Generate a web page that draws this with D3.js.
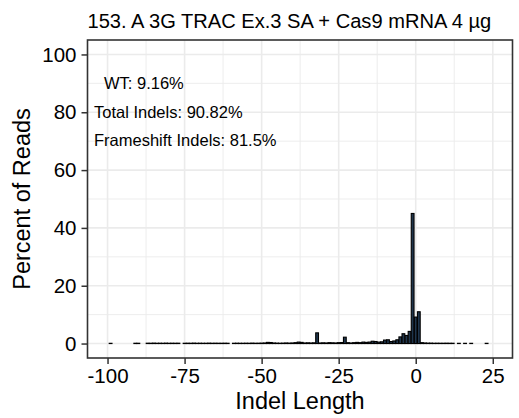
<!DOCTYPE html>
<html>
<head>
<meta charset="utf-8">
<script src="https://cdn.jsdelivr.net/npm/d3@7"></script>
<style>
  html, body { margin: 0; padding: 0; background: #fff; }
  svg { display: block; font-family: "Liberation Sans", Arial, Helvetica, sans-serif; }
</style>
</head>
<body>
<svg id="chart" width="519" height="418"></svg>
<script>
// ---------- data ----------
const chartTitle = "153. A 3G TRAC Ex.3 SA + Cas9 mRNA 4 \u00b5g";
const xAxisTitle = "Indel Length";
const yAxisTitle = "Percent of Reads";
const xTickValues = [-100, -75, -50, -25, 0, 25];
const xTickLabels = ["-100", "-75", "-50", "-25", "0", "25"];
const yTickValues = [0, 20, 40, 60, 80, 100];
const yTickLabels = ["0", "20", "40", "60", "80", "100"];
const annotations = ["WT: 9.16%", "Total Indels: 90.82%", "Frameshift Indels: 81.5%"];

const indelLength = [
  -99, -91, -90,
  -87, -86, -85, -84, -83, -82, -81, -80, -79, -78, -77,
  -75, -74, -73, -72, -71, -70, -69, -68, -67, -66, -65, -64, -63, -62, -61,
  -59, -58, -57, -56, -55, -54, -53, -52, -51, -50, -49, -48, -47, -46, -45,
  -44, -43, -42, -41, -40, -39, -38, -37, -36, -35, -34, -33,
  -32, -31, -30, -29, -28, -27, -26, -25, -24, -23,
  -22, -21, -20, -19, -18, -17, -16, -15, -14, -13, -12, -11,
  -10, -9, -8, -7, -6, -5, -4, -3, -2, -1,
  0, 1, 2, 3, 4, 5, 6, 7, 8, 9, 10, 11, 12, 14, 16, 18, 23
];
const percentReads = [
  0.08, 0.10, 0.10,
  0.12, 0.10, 0.15, 0.10, 0.12, 0.10, 0.14, 0.10, 0.12, 0.10, 0.12,
  0.10, 0.12, 0.10, 0.15, 0.10, 0.12, 0.10, 0.10, 0.14, 0.10, 0.12, 0.10, 0.10, 0.12, 0.10,
  0.10, 0.12, 0.10, 0.10, 0.12, 0.10, 0.15, 0.10, 0.12, 0.15, 0.20, 0.40, 0.35, 0.20, 0.15,
  0.12, 0.15, 0.20, 0.15, 0.20, 0.30, 0.50, 0.40, 0.20, 0.25, 0.20, 0.25,
  3.70, 0.20, 0.25, 0.20, 0.30, 0.25, 0.20, 0.30, 0.35, 2.20,
  0.30, 0.20, 0.30, 0.40, 0.30, 0.50, 0.40, 0.50, 0.80, 0.70, 0.50, 0.60,
  1.20, 1.30, 0.70, 0.90, 1.30, 2.30, 3.40, 2.80, 4.20, 45.0,
  9.16, 11.0, 0.30, 0.20, 0.15, 0.15, 0.10, 0.12, 0.10, 0.10, 0.12, 0.10, 0.10, 0.08, 0.08, 0.08, 0.08
];

// ---------- layout ----------
const svg = d3.select("#chart");
const panel = { left: 87.5, right: 512.5, top: 40, bottom: 358 };

const x = d3.scaleLinear().domain([-106.5, 31.4]).range([panel.left, panel.right]);
const y = d3.scaleLinear().domain([-5, 105]).range([panel.bottom, panel.top]);

const bars = indelLength.map((d, i) => ({ len: d, pct: percentReads[i] }));

// grid
const grid = svg.append("g");
const xMinor = d3.range(-112.5, 40, 25).filter(v => v > x.domain()[0] && v < x.domain()[1]);
const yMinor = d3.range(10, 110, 20);
grid.selectAll(".xminor").data(xMinor).enter().append("line")
  .attr("x1", d => x(d)).attr("x2", d => x(d)).attr("y1", panel.top).attr("y2", panel.bottom)
  .attr("stroke", "#ebebeb").attr("stroke-width", 0.9);
grid.selectAll(".yminor").data(yMinor).enter().append("line")
  .attr("y1", d => y(d)).attr("y2", d => y(d)).attr("x1", panel.left).attr("x2", panel.right)
  .attr("stroke", "#ebebeb").attr("stroke-width", 0.9);
grid.selectAll(".xmajor").data(xTickValues).enter().append("line")
  .attr("x1", d => x(d)).attr("x2", d => x(d)).attr("y1", panel.top).attr("y2", panel.bottom)
  .attr("stroke", "#ebebeb").attr("stroke-width", 1.6);
grid.selectAll(".ymajor").data(yTickValues).enter().append("line")
  .attr("y1", d => y(d)).attr("y2", d => y(d)).attr("x1", panel.left).attr("x2", panel.right)
  .attr("stroke", "#ebebeb").attr("stroke-width", 1.6);

// bars
const bw = (x(0.45) - x(-0.45));
svg.append("g").selectAll("rect").data(bars).enter().append("rect")
  .attr("x", d => x(d.len) - bw / 2)
  .attr("width", bw)
  .attr("y", d => y(d.pct))
  .attr("height", d => y(0) - y(d.pct))
  .attr("fill", "#1f354c")
  .attr("stroke", "#000")
  .attr("stroke-width", 1.1);

// annotations
const annX = [104, 94, 94];
const annY = [89, 117.5, 146];
svg.append("g").selectAll("text").data(annotations).enter().append("text")
  .attr("x", (d, i) => annX[i]).attr("y", (d, i) => annY[i])
  .attr("font-size", 16.5).attr("fill", "#000")
  .text(d => d);

// panel border
svg.append("rect")
  .attr("x", panel.left).attr("y", panel.top)
  .attr("width", panel.right - panel.left).attr("height", panel.bottom - panel.top)
  .attr("fill", "none").attr("stroke", "#333").attr("stroke-width", 1.6);

// axes
const xAxis = svg.append("g").attr("transform", `translate(0,${panel.bottom})`)
  .call(d3.axisBottom(x).tickValues(xTickValues).tickSize(6).tickPadding(4).tickSizeOuter(0)
    .tickFormat((d, i) => xTickLabels[i]));
const yAxis = svg.append("g").attr("transform", `translate(${panel.left},0)`)
  .call(d3.axisLeft(y).tickValues(yTickValues).tickSize(6).tickPadding(5).tickSizeOuter(0)
    .tickFormat((d, i) => yTickLabels[i]));
[xAxis, yAxis].forEach(a => {
  a.select(".domain").remove();
  a.selectAll(".tick line").attr("stroke", "#333").attr("stroke-width", 1.5);
  a.selectAll(".tick text").attr("fill", "#000").attr("font-size", 20.5)
    .attr("font-family", "'Liberation Sans', Arial, sans-serif");
});

// titles
svg.append("text").attr("x", panel.left).attr("y", 28)
  .attr("font-size", 20.1).attr("fill", "#000").text(chartTitle);
svg.append("text").attr("x", (panel.left + panel.right) / 2).attr("y", 409)
  .attr("text-anchor", "middle").attr("font-size", 23.5).attr("fill", "#000").text(xAxisTitle);
svg.append("text").attr("transform", `translate(30,${(panel.top + panel.bottom) / 2}) rotate(-90)`)
  .attr("text-anchor", "middle").attr("font-size", 23.5).attr("fill", "#000").text(yAxisTitle);
</script>
</body>
</html>
